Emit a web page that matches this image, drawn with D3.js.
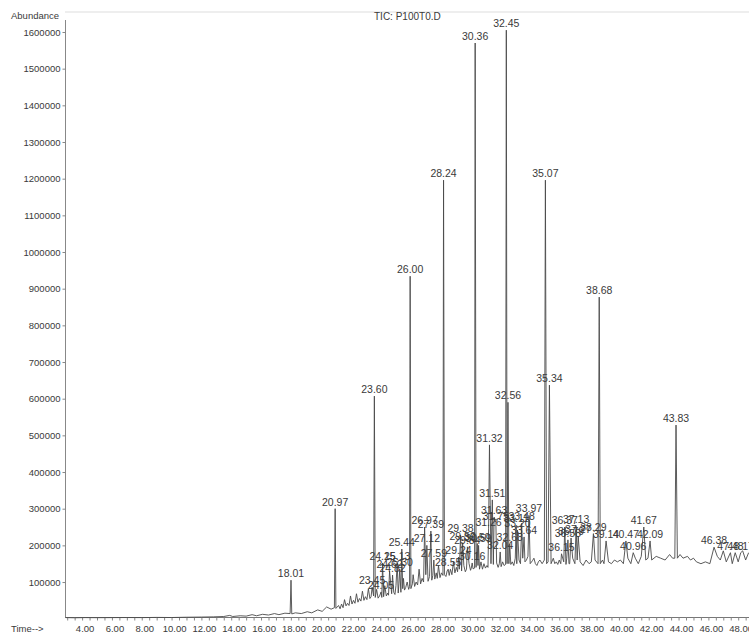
<!DOCTYPE html>
<html>
<head>
<meta charset="utf-8">
<script src="https://cdn.jsdelivr.net/npm/d3@7"></script>
<style>
  body { margin: 0; background: #fff; }
  text { font-family: "Liberation Sans", Arial, sans-serif; fill: #3a3a3a; }
</style>
</head>
<body>
<script>
// baseline / noise of the TIC trace: [time (min), abundance]
var trace = [
  [2.9,3000],[3.5,2500],[4.2,3000],[5,2800],[6,3000],[7,3200],[8,3000],[9,3500],[10,3200],[11,4000],
  [12,4500],[12.8,5000],[13.5,6000],[13.9,9000],[14.1,6000],[14.6,8000],[15,7000],[15.4,11000],[15.7,8000],
  [16.1,12000],[16.5,10000],[16.9,14000],[17.2,11000],[17.6,15000],[17.95,14000],[18.06,13000],[18.3,16000],
  [18.7,14000],[19.1,19000],[19.4,16000],[19.8,24000],[20.1,20000],[20.4,32000],[20.7,26000],[20.92,30000],
  [21.02,28000],[21.2,36000],[21.3,27000],[21.4,40000],[21.5,30000],[21.6,52000],[21.7,35000],[21.8,42000],
  [21.9,36000],[22.0,62000],[22.1,40000],[22.2,50000],[22.3,42000],[22.4,68000],[22.5,45000],[22.6,55000],
  [22.7,48000],[22.8,75000],[22.9,50000],[23.0,60000],[23.1,52000],[23.2,82000],[23.3,55000],[23.38,60000],
  [23.55,62000],[23.66,58000],[23.75,80000],[23.85,56000],[23.95,62000],[24.1,58000],[24.22,60000],
  [24.3,90000],[24.4,62000],[24.5,70000],[24.55,64000],[24.7,95000],[24.76,68000],[24.9,72000],
  [24.98,66000],[25.05,90000],[25.2,70000],[25.25,95000],[25.38,72000],[25.5,82000],[25.55,110000],
  [25.62,78000],[25.7,85000],[25.8,100000],[25.9,80000],[25.96,88000],[26.05,82000],[26.15,95000],
  [26.2,120000],[26.3,88000],[26.4,100000],[26.5,92000],[26.6,135000],[26.7,95000],[26.8,110000],
  [26.9,100000],[27.05,120000],[27.2,102000],[27.3,115000],[27.45,105000],[27.52,118000],[27.65,108000],
  [27.75,125000],[27.82,110000],[27.9,145000],[28.0,112000],[28.1,125000],[28.2,118000],[28.3,120000],
  [28.4,115000],[28.48,130000],[28.62,118000],[28.7,135000],[28.8,120000],[28.9,155000],[29.0,125000],
  [29.1,140000],[29.18,128000],[29.3,135000],[29.45,130000],[29.6,145000],[29.7,128000],[29.78,135000],
  [29.95,150000],[30.05,132000],[30.1,138000],[30.22,136000],[30.32,138000],[30.42,140000],[30.55,145000],
  [30.65,135000],[30.75,155000],[30.85,135000],[30.95,150000],[31.05,138000],[31.15,145000],[31.22,140000],
  [31.42,150000],[31.58,148000],[31.8,152000],[31.9,140000],[31.98,150000],[32.1,142000],[32.2,155000],
  [32.3,145000],[32.4,148000],[32.5,150000],[32.62,150000],[32.75,148000],[32.85,155000],[32.95,145000],
  [33.05,165000],[33.15,150000],[33.3,160000],[33.4,150000],[33.55,165000],[33.7,155000],[33.8,160000],
  [33.9,170000],[34.05,150000],[34.2,158000],[34.3,165000],[34.4,150000],[34.5,145000],[34.6,155000],
  [34.7,160000],[34.85,150000],[35.0,160000],[35.15,150000],[35.25,155000],[35.45,150000],[35.6,165000],
  [35.7,150000],[35.8,155000],[35.9,148000],[36.0,160000],[36.1,150000],[36.3,155000],[36.45,148000],
  [36.5,165000],[36.65,150000],[36.7,150000],[36.9,165000],[37.05,150000],[37.2,160000],[37.4,155000],
  [37.6,145000],[37.8,160000],[38.0,150000],[38.15,155000],[38.4,160000],[38.6,150000],[38.75,150000],
  [38.9,160000],[39.0,150000],[39.3,155000],[39.5,150000],[39.7,160000],[39.9,155000],[40.1,160000],
  [40.3,150000],[40.6,165000],[40.8,150000],[41.1,165000],[41.3,150000],[41.5,170000],[41.8,160000],
  [41.95,165000],[42.2,160000],[42.5,170000],[42.8,165000],[43.1,160000],[43.4,175000],[43.6,165000],
  [43.75,165000],[43.92,165000],[44.1,175000],[44.3,165000],[44.6,170000],[44.8,160000],[45.0,165000],
  [45.2,155000],[45.5,150000],[45.8,155000],[46.1,150000],[46.6,170000],[46.8,160000],[47.0,185000],
  [47.2,155000],[47.6,150000],[47.8,180000],[48.0,155000],[48.3,185000],[48.5,160000],[48.7,180000]
];

// labelled peaks: retention time label, time, apex abundance
var peakLabels = ["18.01","20.97","23.45","23.60","24.05","24.15","24.62","24.82","25.13","25.30","25.44",
  "26.00","26.97","27.12","27.39","27.59","28.24","28.55","29.24","29.38","29.52","29.84","30.16","30.36",
  "30.50","30.59","31.26","31.32","31.51","31.63","31.75","32.04","32.45","32.56","32.68","33.11","33.20",
  "33.48","33.64","33.97","35.07","35.34","36.15","36.37","36.58","36.79","37.13","37.27","38.29","38.68",
  "39.14","40.47","40.96","41.67","42.09","43.83","46.38","47.48","48.17"];
var peakTimes = [18.01,20.97,23.45,23.60,24.05,24.15,24.62,24.82,25.13,25.30,25.44,
  26.00,26.97,27.12,27.39,27.59,28.24,28.55,29.24,29.38,29.52,29.84,30.16,30.36,
  30.50,30.59,31.26,31.32,31.51,31.63,31.75,32.04,32.45,32.56,32.68,33.11,33.20,
  33.48,33.64,33.97,35.07,35.34,36.15,36.37,36.58,36.79,37.13,37.27,38.29,38.68,
  39.14,40.47,40.96,41.67,42.09,43.83,46.38,47.48,48.17];
var peakHeights = [105000,300000,86000,607000,73000,152000,130000,119000,152000,135000,190000,
  934000,250000,200000,239000,160000,1196000,135000,168000,228000,207000,196000,152000,1570000,
  205000,200000,245000,474000,324000,277000,262000,182000,1605000,590000,203000,255000,242000,
  260000,223000,282000,1196000,637000,177000,250000,215000,220000,252000,225000,232000,877000,
  212000,212000,180000,250000,212000,528000,195000,180000,180000];

var yTicks = [100000,200000,300000,400000,500000,600000,700000,800000,900000,1000000,
  1100000,1200000,1300000,1400000,1500000,1600000];
var xTickLabels = [4,6,8,10,12,14,16,18,20,22,24,26,28,30,32,34,36,38,40,42,44,46,48];

var W = 749, H = 633;
var svg = d3.select("body").append("svg").attr("width", W).attr("height", H);

var x = d3.scaleLinear().domain([4, 48]).range([82.1, 738.2]);
var y = d3.scaleLinear().domain([0, 1600000]).range([618.7, 32]);

var peaks = peakLabels.map(function(l, i) { return {label: l, t: peakTimes[i], v: peakHeights[i]} });
var line = trace.concat(peaks.map(function(p) { return [p.t, p.v] }))
  .sort(function(a, b) { return a[0] - b[0] });

// frame
svg.append("line").attr("x1", 65).attr("x2", W).attr("y1", 12).attr("y2", 12)
   .attr("stroke", "#ddd").attr("stroke-width", 1);
svg.append("line").attr("x1", 65.5).attr("x2", 65.5).attr("y1", 20).attr("y2", 617)
   .attr("stroke", "#888").attr("stroke-width", 1);
svg.append("line").attr("x1", 65).attr("x2", W).attr("y1", 617.5).attr("y2", 617.5)
   .attr("stroke", "#777").attr("stroke-width", 1);

// y axis
var ya = svg.append("g").attr("transform", "translate(65.5,0)")
  .call(d3.axisLeft(y).tickValues(yTicks).tickSize(3).tickPadding(2).tickFormat(d3.format("d")));
ya.select(".domain").remove();
ya.selectAll("line").attr("stroke", "#888");
ya.selectAll("text").attr("font-size", "9.5px").style("fill", "#3a3a3a");

// x axis: minor ticks every 0.5 min, labels every 2
var xa = svg.append("g").attr("transform", "translate(0,617.5)")
  .call(d3.axisBottom(x).tickValues(d3.range(3, 48.6, 0.5)).tickSize(3).tickFormat(""));
xa.select(".domain").remove();
xa.selectAll("line").attr("stroke", "#888");
svg.selectAll(".xlab").data(xTickLabels).enter().append("text")
   .attr("class", "xlab")
   .attr("x", function(d) { return x(d) + 3 })
   .attr("y", 632)
   .attr("text-anchor", "middle")
   .attr("font-size", "9.5px")
   .text(function(d) { return d.toFixed(2) });

// trace
svg.append("path").datum(line)
   .attr("d", d3.line().x(function(d) { return x(d[0]) }).y(function(d) { return y(d[1]) }))
   .attr("fill", "none").attr("stroke", "#4a4a4a").attr("stroke-width", 0.9);

// peak labels
svg.selectAll(".pk").data(peaks).enter().append("text")
   .attr("class", "pk")
   .attr("x", function(d) { return x(d.t) })
   .attr("y", function(d) { return y(d.v) - 3 })
   .attr("text-anchor", "middle")
   .attr("font-size", "10.5px")
   .text(function(d) { return d.label });

// titles
svg.append("text").attr("x", 11).attr("y", 19).attr("font-size", "9.5px").text("Abundance");
svg.append("text").attr("x", 374).attr("y", 20).attr("font-size", "10px").text("TIC: P100T0.D");
svg.append("text").attr("x", 11).attr("y", 632).attr("font-size", "9.5px").text("Time-->");
</script>
</body>
</html>
